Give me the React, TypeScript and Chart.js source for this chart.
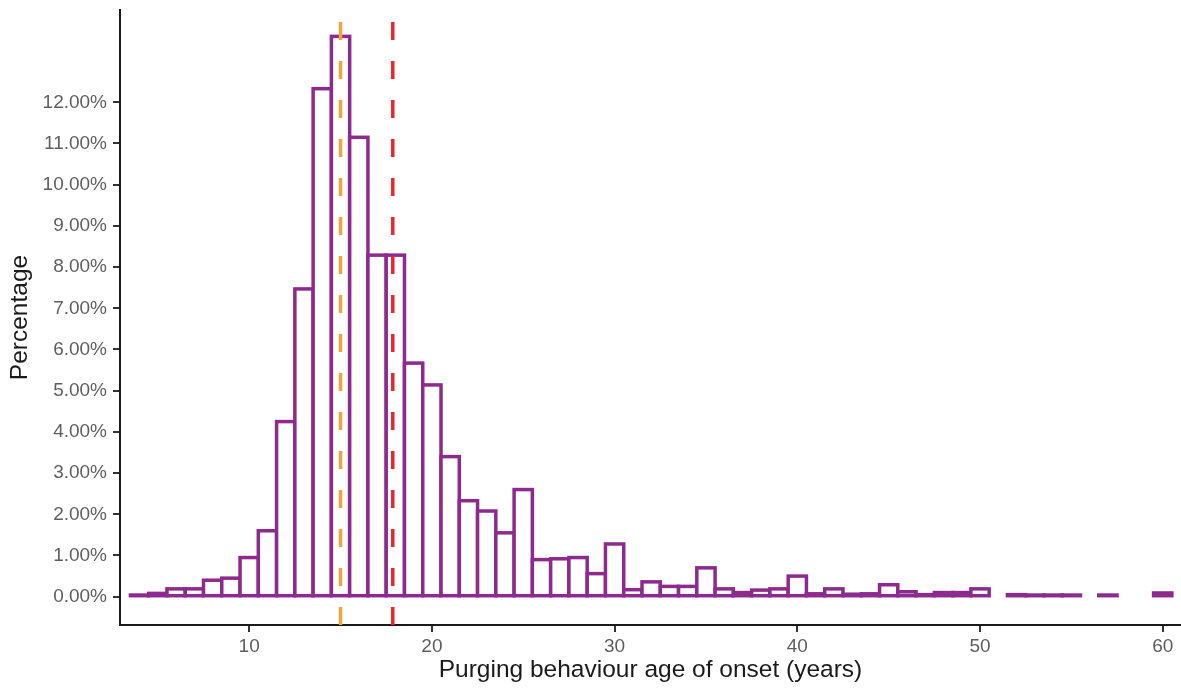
import React, { useEffect, useRef } from "react";
import { Chart, registerables } from "chart.js";

Chart.register(...registerables);

// Age of onset (years) – histogram bins centred on each integer age
const ages: number[] = [
  4, 5, 6, 7, 8, 9, 10, 11, 12, 13, 14, 15, 16, 17, 18, 19, 20, 21, 22, 23, 24,
  25, 26, 27, 28, 29, 30, 31, 32, 33, 34, 35, 36, 37, 38, 39, 40, 41, 42, 43,
  44, 45, 46, 47, 48, 49, 50, 51, 52, 53, 54, 55, 56, 57, 58, 59, 60,
];

// Percentage of participants in each bin (null = empty bin)
const percentages: (number | null)[] = [
  0.04, 0.08, 0.19, 0.19, 0.4, 0.45, 0.95, 1.6, 4.25, 7.47, 12.33, 13.6, 11.15,
  8.29, 8.29, 5.67, 5.14, 3.4, 2.33, 2.08, 1.55, 2.6, 0.9, 0.92, 0.95, 0.56,
  1.28, 0.17, 0.36, 0.25, 0.25, 0.7, 0.19, 0.1, 0.16, 0.19, 0.5, 0.07, 0.19,
  0.06, 0.07, 0.29, 0.12, 0.05, 0.1, 0.1, 0.19, null, 0.05, 0.04, 0.04, 0.04,
  null, 0.04, null, null, 0.09,
];

const medianAge = 15; // orange dashed line
const meanAge = 17.86; // red dashed line

const xTicks: number[] = [10, 20, 30, 40, 50, 60];
const yTicks: number[] = [0, 1, 2, 3, 4, 5, 6, 7, 8, 9, 10, 11, 12];

const X_MIN = 2.93;
const X_MAX = 61.0;
const Y_MIN = -0.687;
const Y_MAX = 14.24;

const PURPLE = "#8C2A8D";
const ORANGE = "#F2A33A";
const RED = "#E8262B";
const FONT = "'Liberation Sans', Arial, sans-serif";

// Draw histogram bars ggplot-style: white fill, outline centred on the bin edges
const outlineBars = {
  id: "outlineBars",
  beforeDatasetDraw(chart: any, args: any) {
    const ds = chart.data.datasets[args.index];
    if (ds.type !== "bar") return;
    const ctx = chart.ctx;
    const area = chart.chartArea;
    ctx.save();
    ctx.beginPath();
    ctx.rect(area.left, area.top, area.right - area.left, area.bottom - area.top);
    ctx.clip();
    ctx.lineWidth = ds.borderWidth;
    ctx.strokeStyle = ds.borderColor;
    ctx.fillStyle = ds.backgroundColor;
    ctx.lineJoin = "miter";
    args.meta.data.forEach((el: any, i: number) => {
      const v = ds.data[i]?.y;
      if (v === null || v === undefined) return;
      const p = el.getProps(["x", "y", "base", "width"], true);
      const left = p.x - p.width / 2;
      const top = Math.min(p.y, p.base);
      const h = Math.abs(p.base - p.y);
      ctx.fillRect(left, top, p.width, h);
      ctx.strokeRect(left, top, p.width, h);
    });
    ctx.restore();
    return false;
  },
};

export default function App() {
  const canvasRef = useRef<HTMLCanvasElement | null>(null);

  useEffect(() => {
    const canvas = canvasRef.current;
    if (!canvas) return;

    const barData = ages.map((a, i) => ({ x: a, y: percentages[i] }));

    const chart = new Chart(canvas, {
      type: "bar",
      plugins: [outlineBars],
      data: {
        datasets: [
          {
            type: "line",
            label: "median",
            data: [
              { x: medianAge, y: Y_MIN },
              { x: medianAge, y: Y_MAX },
            ],
            borderColor: ORANGE,
            borderWidth: 3.5,
            borderDash: [18, 21],
            pointRadius: 0,
            fill: false,
            order: 0,
          } as any,
          {
            type: "line",
            label: "mean",
            data: [
              { x: meanAge, y: Y_MIN },
              { x: meanAge, y: Y_MAX },
            ],
            borderColor: RED,
            borderWidth: 3.5,
            borderDash: [18, 21],
            pointRadius: 0,
            fill: false,
            order: 0,
          } as any,
          {
            type: "bar",
            label: "Percentage",
            data: barData as any,
            backgroundColor: "#ffffff",
            borderColor: PURPLE,
            borderWidth: 3.5,
            barPercentage: 1,
            categoryPercentage: 1,
            order: 1,
          } as any,
        ],
      },
      options: {
        animation: false,
        responsive: true,
        maintainAspectRatio: false,
        layout: { padding: { top: 10, right: 0, bottom: 0, left: 0 } },
        plugins: {
          legend: { display: false },
          tooltip: { enabled: false },
        },
        scales: {
          x: {
            type: "linear",
            min: X_MIN,
            max: X_MAX,
            offset: false,
            afterBuildTicks: (scale: any) => {
              scale.ticks = xTicks.map((v) => ({ value: v }));
            },
            afterFit: (scale: any) => {
              scale.height = 67;
              scale.paddingLeft = 0;
              scale.paddingRight = 0;
            },
            ticks: {
              autoSkip: false,
              maxRotation: 0,
              padding: 3,
              color: "#5e5e5e",
              font: { family: FONT, size: 19 },
              callback: (v: any) => String(v),
            },
            grid: {
              display: true,
              offset: false,
              drawOnChartArea: false,
              drawTicks: true,
              tickLength: 7,
              color: "#333333",
              lineWidth: 2,
            },
            border: { display: true, color: "#1a1a1a", width: 2 },
            title: {
              display: true,
              text: "Purging behaviour age of onset (years)",
              color: "#1a1a1a",
              font: { family: FONT, size: 24.5 },
              padding: { top: 0, bottom: 7 },
            },
          },
          y: {
            type: "linear",
            min: Y_MIN,
            max: Y_MAX,
            afterBuildTicks: (scale: any) => {
              scale.ticks = yTicks.map((v) => ({ value: v }));
            },
            afterFit: (scale: any) => {
              scale.width = 120;
              scale.paddingTop = 0;
              scale.paddingBottom = 0;
            },
            ticks: {
              autoSkip: false,
              padding: 6,
              color: "#5e5e5e",
              font: { family: FONT, size: 19 },
              callback: (v: any) => Number(v).toFixed(2) + "%",
            },
            grid: {
              display: true,
              drawOnChartArea: false,
              drawTicks: true,
              tickLength: 7,
              color: "#333333",
              lineWidth: 2,
            },
            border: { display: true, color: "#1a1a1a", width: 2 },
            title: {
              display: true,
              text: "Percentage",
              color: "#1a1a1a",
              font: { family: FONT, size: 24.5 },
              padding: { top: 6, bottom: 0 },
            },
          },
        },
      } as any,
    });

    return () => {
      chart.destroy();
    };
  }, []);

  return (
    <div
      style={{
        position: "fixed",
        left: 0,
        top: 0,
        width: 1181,
        height: 692,
        background: "#ffffff",
      }}
    >
      <canvas ref={canvasRef} />
    </div>
  );
}
